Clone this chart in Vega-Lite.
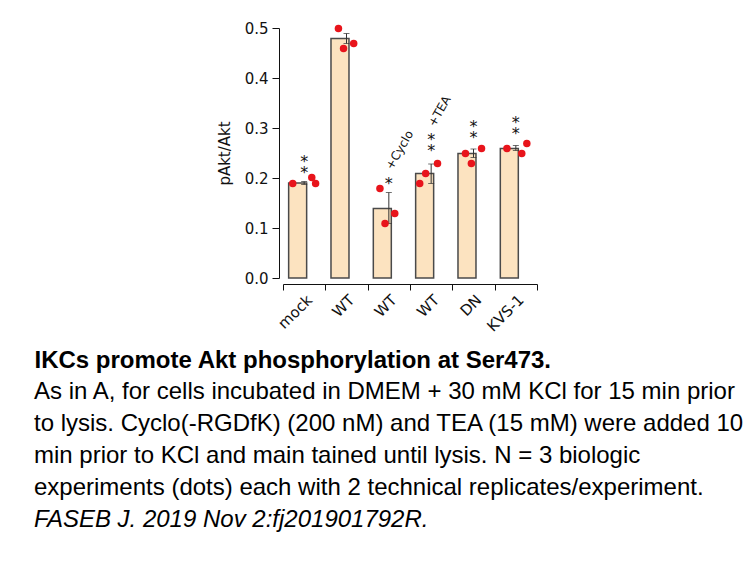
{
  "$schema": "https://vega.github.io/schema/vega-lite/v6.json",
  "width": 254,
  "height": 250,
  "autosize": {"type": "none"},
  "padding": {"left": 283, "top": 28, "right": 219, "bottom": 289},
  "background": "white",
  "config": {
    "view": {"stroke": null},
    "font": "DejaVu Sans",
    "axis": {"domainColor": "#111", "tickColor": "#111", "labelColor": "#111", "titleColor": "#111", "grid": false, "labelFont": "DejaVu Sans", "titleFont": "DejaVu Sans", "labelFontSize": 15, "titleFontSize": 15, "titleFontWeight": "normal"},
    "axisY": {"offset": 4, "tickSize": 7, "labelPadding": 4, "titlePadding": 12, "values": [0, 0.1, 0.2, 0.3, 0.4, 0.5], "format": ".1f"}
  },
  "title": {
    "text": [
      "As in A, for cells incubated in DMEM + 30 mM KCl for 15 min prior",
      "to lysis. Cyclo(-RGDfK) (200 nM) and TEA (15 mM) were added 10",
      "min prior to KCl and main tained until lysis. N = 3 biologic",
      "experiments (dots) each with 2 technical replicates/experiment."
    ],
    "subtitle": "FASEB J. 2019 Nov 2:fj201901792R.",
    "orient": "bottom",
    "anchor": "start",
    "frame": "group",
    "dx": -249,
    "offset": 8,
    "font": "Liberation Sans",
    "fontSize": 24,
    "fontWeight": "normal",
    "lineHeight": 32,
    "color": "#000",
    "subtitleFont": "Liberation Sans",
    "subtitleFontSize": 24,
    "subtitleFontStyle": "italic",
    "subtitleColor": "#000",
    "subtitleLineHeight": 32,
    "subtitlePadding": 8
  },
  "datasets": {
    "bars": [
      {"g": "mock", "mean": 0.19, "lo": 0.187, "hi": 0.193},
      {"g": "WT", "mean": 0.479, "lo": 0.469, "hi": 0.489},
      {"g": "WT+Cyclo", "mean": 0.139, "lo": 0.109, "hi": 0.171},
      {"g": "WT+TEA", "mean": 0.209, "lo": 0.189, "hi": 0.228},
      {"g": "DN", "mean": 0.249, "lo": 0.241, "hi": 0.258},
      {"g": "KVS-1", "mean": 0.259, "lo": 0.255, "hi": 0.265}
    ],
    "dots": [
      {"g": "mock", "jitter": -0.27, "value": 0.189},
      {"g": "mock", "jitter": 0.18, "value": 0.201},
      {"g": "mock", "jitter": 0.27, "value": 0.189},
      {"g": "WT", "jitter": -0.19, "value": 0.499},
      {"g": "WT", "jitter": -0.07, "value": 0.459},
      {"g": "WT", "jitter": 0.17, "value": 0.469},
      {"g": "WT+Cyclo", "jitter": -0.21, "value": 0.179},
      {"g": "WT+Cyclo", "jitter": -0.09, "value": 0.109},
      {"g": "WT+Cyclo", "jitter": 0.14, "value": 0.129},
      {"g": "WT+TEA", "jitter": -0.27, "value": 0.189},
      {"g": "WT+TEA", "jitter": -0.13, "value": 0.209},
      {"g": "WT+TEA", "jitter": 0.15, "value": 0.229},
      {"g": "DN", "jitter": -0.19, "value": 0.249},
      {"g": "DN", "jitter": -0.05, "value": 0.229},
      {"g": "DN", "jitter": 0.19, "value": 0.259},
      {"g": "KVS-1", "jitter": -0.21, "value": 0.259},
      {"g": "KVS-1", "jitter": 0.14, "value": 0.249},
      {"g": "KVS-1", "jitter": 0.26, "value": 0.269}
    ],
    "stars": [
      {"g": "mock", "y": 0.241, "s": "*\n*"},
      {"g": "WT+Cyclo", "y": 0.196, "s": "*"},
      {"g": "WT+TEA", "y": 0.285, "s": "*\n*"},
      {"g": "DN", "y": 0.311, "s": "*\n*"},
      {"g": "KVS-1", "y": 0.318, "s": "*\n*"}
    ],
    "notes": [
      {"g": "WT+Cyclo", "y": 0.219, "text": "+Cyclo"},
      {"g": "WT+TEA", "y": 0.305, "text": "+TEA"}
    ]
  },
  "encoding": {
    "x": {
      "field": "g",
      "type": "nominal",
      "sort": ["mock", "WT", "WT+Cyclo", "WT+TEA", "DN", "KVS-1"],
      "scale": {"paddingInner": 0, "paddingOuter": 0},
      "axis": {
        "title": "IKCs promote Akt phosphorylation at Ser473.",
        "titleFont": "Liberation Sans",
        "titleFontSize": 24,
        "titleFontWeight": "bold",
        "titleColor": "#000",
        "titleAnchor": "start",
        "titleAlign": "left",
        "titleBaseline": "alphabetic",
        "titleX": -249,
        "titleY": 83,
        "offset": 6,
        "tickSize": 6,
        "tickBand": "extent",
        "labelAngle": -45,
        "labelAlign": "right",
        "labelBaseline": "top",
        "labelPadding": 2,
        "labelExpr": "datum.label == 'WT+Cyclo' || datum.label == 'WT+TEA' ? 'WT' : datum.label"
      }
    }
  },
  "layer": [
    {
      "data": {"name": "bars"},
      "mark": {"type": "bar", "fill": "#FCE3C0", "stroke": "#4A4A4A", "strokeWidth": 1.5, "width": {"band": 0.733}},
      "encoding": {
        "y": {"field": "mean", "type": "quantitative", "scale": {"domain": [0, 0.5]}, "title": "pAkt/Akt"}
      }
    },
    {
      "data": {"name": "bars"},
      "mark": {"type": "rule", "color": "#333", "strokeWidth": 1},
      "encoding": {
        "y": {"field": "lo", "type": "quantitative", "title": "pAkt/Akt"},
        "y2": {"field": "hi"}
      }
    },
    {
      "data": {"name": "bars"},
      "mark": {"type": "tick", "color": "#333", "size": 6, "thickness": 1},
      "encoding": {
        "y": {"field": "lo", "type": "quantitative", "title": "pAkt/Akt"}
      }
    },
    {
      "data": {"name": "bars"},
      "mark": {"type": "tick", "color": "#333", "size": 6, "thickness": 1},
      "encoding": {
        "y": {"field": "hi", "type": "quantitative", "title": "pAkt/Akt"}
      }
    },
    {
      "data": {"name": "dots"},
      "mark": {"type": "circle", "color": "#E8141B", "opacity": 1, "size": 56},
      "encoding": {
        "y": {"field": "value", "type": "quantitative", "title": "pAkt/Akt"},
        "xOffset": {"field": "jitter", "type": "quantitative", "scale": {"domain": [-0.5, 0.5]}}
      }
    },
    {
      "data": {"name": "stars"},
      "mark": {"type": "text", "fontSize": 16, "font": "DejaVu Sans", "baseline": "alphabetic", "dy": 9, "lineBreak": "\n", "lineHeight": 11, "color": "#111"},
      "encoding": {
        "y": {"field": "y", "type": "quantitative", "title": "pAkt/Akt"},
        "text": {"field": "s"}
      }
    },
    {
      "data": {"name": "notes"},
      "mark": {"type": "text", "fontSize": 12, "font": "DejaVu Sans", "angle": 300, "align": "left", "baseline": "middle", "color": "#111"},
      "encoding": {
        "y": {"field": "y", "type": "quantitative", "title": "pAkt/Akt"},
        "text": {"field": "text"}
      }
    }
  ]
}
